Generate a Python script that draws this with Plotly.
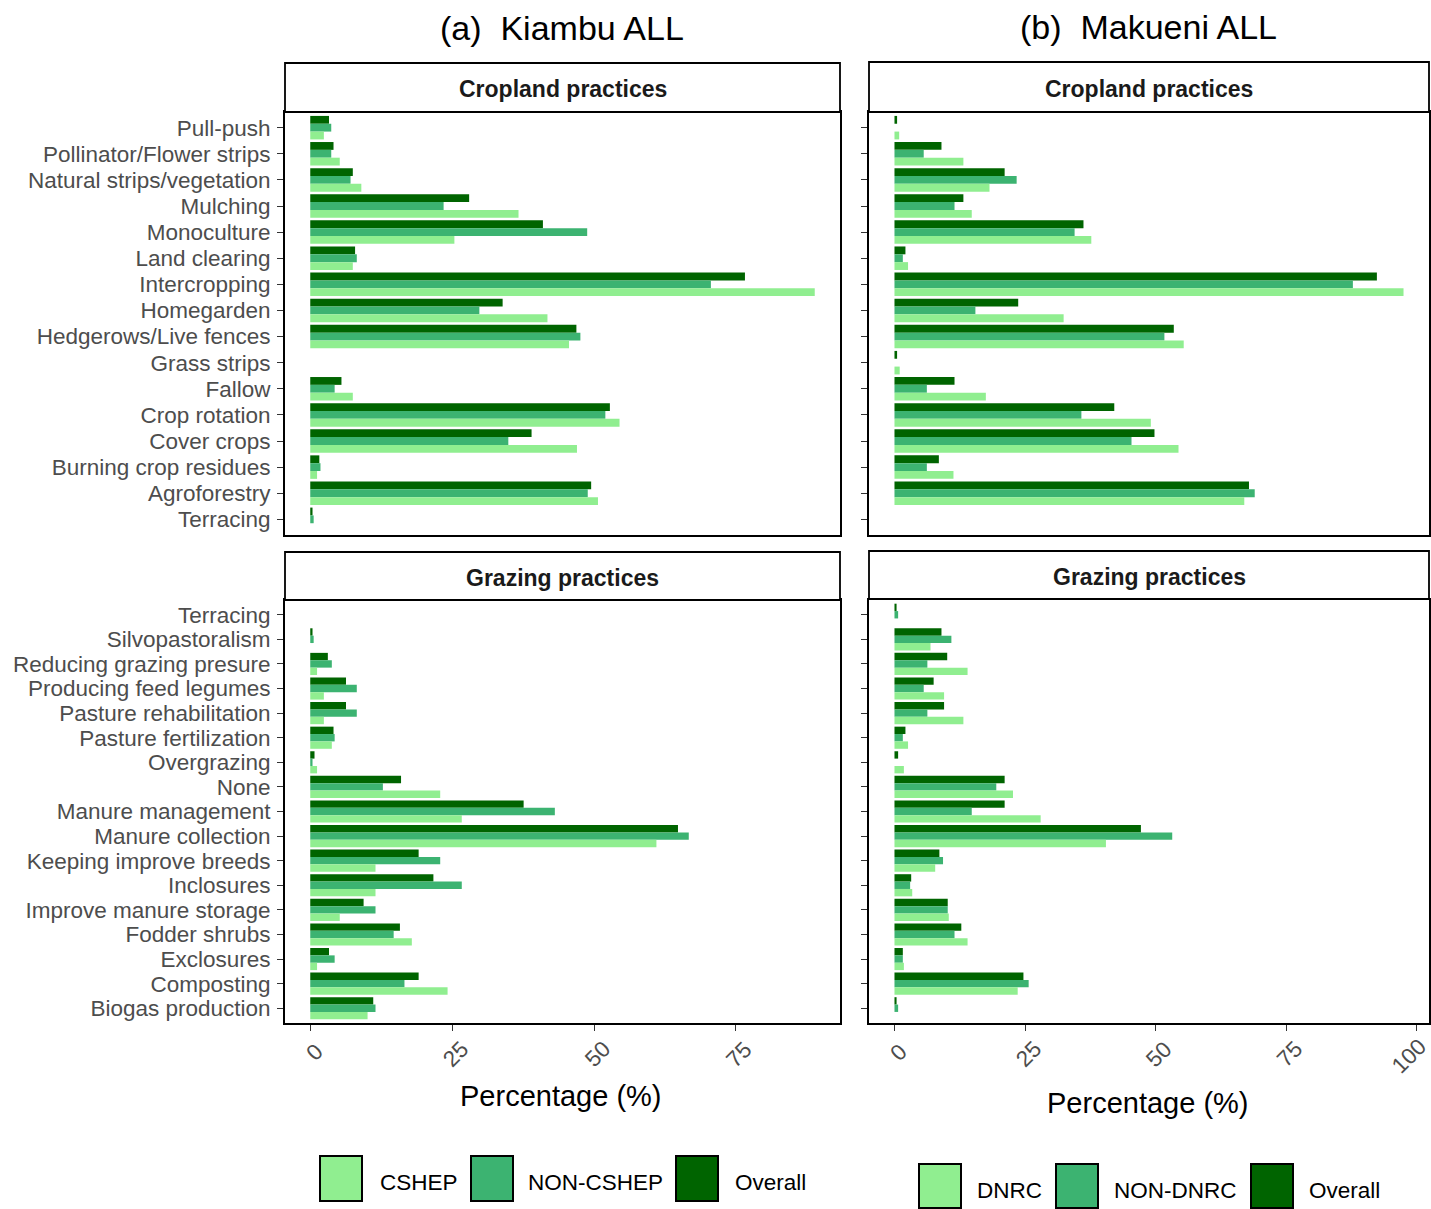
import plotly.graph_objects as go

# ---------------- data ----------------
crop_categories = [
    "Pull-push", "Pollinator/Flower strips", "Natural strips/vegetation", "Mulching",
    "Monoculture", "Land clearing", "Intercropping", "Homegarden",
    "Hedgerows/Live fences", "Grass strips", "Fallow", "Crop rotation",
    "Cover crops", "Burning crop residues", "Agroforestry", "Terracing",
]
graze_categories = [
    "Terracing", "Silvopastoralism", "Reducing grazing presure", "Producing feed legumes",
    "Pasture rehabilitation", "Pasture fertilization", "Overgrazing", "None",
    "Manure management", "Manure collection", "Keeping improve breeds", "Inclosures",
    "Improve manure storage", "Fodder shrubs", "Exclosures", "Composting",
    "Biogas production",
]

# Kiambu, cropland practices (%)
kiambu_crop_cshep = [2.4, 5.2, 9.0, 36.7, 25.4, 7.5, 88.9, 41.8, 45.6, 0, 7.5, 54.5, 47.0, 1.2, 50.7, 0]
kiambu_crop_non = [3.7, 3.7, 7.1, 23.5, 48.8, 8.2, 70.6, 29.8, 47.6, 0, 4.3, 52.0, 34.9, 1.8, 48.9, 0.6]
kiambu_crop_overall = [3.3, 4.1, 7.5, 28.0, 41.0, 7.9, 76.6, 33.9, 46.9, 0, 5.5, 52.8, 39.0, 1.6, 49.5, 0.4]

# Makueni, cropland practices (%)
makueni_crop_dnrc = [0.9, 13.2, 18.2, 14.8, 37.7, 2.6, 97.5, 32.4, 55.4, 1.0, 17.5, 49.1, 54.4, 11.3, 67.0, 0]
makueni_crop_non = [0, 5.6, 23.4, 11.5, 34.5, 1.6, 87.8, 15.5, 51.7, 0, 6.2, 35.8, 45.4, 6.2, 69.0, 0]
makueni_crop_overall = [0.5, 9.0, 21.1, 13.2, 36.2, 2.1, 92.4, 23.7, 53.5, 0.5, 11.5, 42.1, 49.8, 8.5, 67.9, 0]

# Kiambu, grazing practices (%)
kiambu_graze_cshep = [0, 0, 1.2, 2.4, 2.4, 3.8, 1.2, 22.9, 26.7, 61.0, 11.5, 11.5, 5.2, 17.9, 1.2, 24.2, 10.1]
kiambu_graze_non = [0, 0.6, 3.8, 8.2, 8.2, 4.3, 0.4, 12.8, 43.1, 66.7, 22.9, 26.7, 11.5, 14.7, 4.3, 16.6, 11.5]
kiambu_graze_overall = [0, 0.4, 3.1, 6.3, 6.3, 4.1, 0.75, 16.0, 37.6, 64.8, 19.1, 21.7, 9.4, 15.8, 3.3, 19.1, 11.1]

# Makueni, grazing practices (%)
makueni_graze_dnrc = [0, 6.9, 14.0, 9.5, 13.2, 2.6, 1.8, 22.7, 28.0, 40.5, 7.8, 3.4, 10.4, 14.0, 1.8, 23.6, 0]
makueni_graze_non = [0.7, 10.9, 6.3, 5.6, 6.3, 1.6, 0, 19.5, 14.8, 53.2, 9.3, 3.0, 10.2, 11.5, 1.6, 25.7, 0.7]
makueni_graze_overall = [0.4, 9.0, 10.1, 7.5, 9.5, 2.1, 0.7, 21.1, 21.1, 47.2, 8.6, 3.2, 10.2, 12.8, 1.6, 24.7, 0.4]

kiambu_groups = ["CSHEP", "NON-CSHEP", "Overall"]
makueni_groups = ["DNRC", "NON-DNRC", "Overall"]
group_colors = ["#90EE90", "#3CB371", "#006400"]

x_ticks_kiambu = [0, 25, 50, 75]
x_ticks_makueni = [0, 25, 50, 75, 100]

# ---------------- layout geometry ----------------
W, H = 1431, 1209


def px_x(v):
    return v / W


def px_y(v):
    return 1 - v / H


left_dom = [px_x(285), px_x(840)]
right_dom = [px_x(869), px_x(1429)]
crop_dom = [px_y(535), px_y(112)]
graze_dom = [px_y(1023), px_y(600)]

BASE_FONT = "Liberation Sans, Arial, sans-serif"
TICK_FONT = dict(family=BASE_FONT, size=22.5, color="#4d4d4d")

fig = go.Figure()

panels = [
    # (xaxis id, yaxis id, categories, series, group names)
    ("x", "y", crop_categories,
     [kiambu_crop_overall, kiambu_crop_non, kiambu_crop_cshep], kiambu_groups),
    ("x2", "y2", crop_categories,
     [makueni_crop_overall, makueni_crop_non, makueni_crop_dnrc], makueni_groups),
    ("x3", "y3", graze_categories,
     [kiambu_graze_overall, kiambu_graze_non, kiambu_graze_cshep], kiambu_groups),
    ("x4", "y4", graze_categories,
     [makueni_graze_overall, makueni_graze_non, makueni_graze_dnrc], makueni_groups),
]

# Overall drawn first so it sits on top of each group (reversed category axis)
for xa, ya, cats, series, names in panels:
    for vals, idx in zip(series, [2, 1, 0]):
        fig.add_trace(go.Bar(
            x=vals, y=cats, orientation="h",
            name=names[idx], marker=dict(color=group_colors[idx], line=dict(width=0)),
            xaxis=xa, yaxis=ya, showlegend=False,
            offsetgroup=str(idx),
        ))


def x_axis(domain, anchor, rng, ticks_vals, bottom):
    ax = dict(
        domain=domain, anchor=anchor, range=rng,
        showline=True, mirror=True, linecolor="black", linewidth=1.8,
        showgrid=False, zeroline=False, fixedrange=True,
        showticklabels=False,
    )
    if bottom:
        ax.update(
            tickmode="array", tickvals=ticks_vals,
            ticks="outside", ticklen=6, tickwidth=1.3, tickcolor="#333333",
        )
    else:
        ax.update(ticks="")
    return ax


def y_axis(domain, anchor, cats, labels):
    n = len(cats)
    return dict(
        domain=domain, anchor=anchor, type="category",
        categoryorder="array", categoryarray=cats,
        tickmode="array", tickvals=cats, ticktext=cats,
        range=[n - 1 + 0.6, -0.6],
        showline=True, mirror=True, linecolor="black", linewidth=1.8,
        showgrid=False, zeroline=False, fixedrange=True,
        ticks="outside", ticklen=6, tickwidth=1.3, tickcolor="#333333",
        showticklabels=labels, tickfont=TICK_FONT, ticklabelstandoff=2,
    )


kiambu_range = [-4.45, 93.35]
makueni_range = [-4.88, 102.38]

fig.update_layout(
    width=W, height=H,
    margin=dict(l=0, r=0, t=0, b=0),
    paper_bgcolor="white", plot_bgcolor="white",
    barmode="group", bargap=0.1, bargroupgap=0,
    showlegend=False,
    font=dict(family=BASE_FONT, color="black"),
    xaxis=x_axis(left_dom, "y", kiambu_range, x_ticks_kiambu, False),
    xaxis2=x_axis(right_dom, "y2", makueni_range, x_ticks_makueni, False),
    xaxis3=x_axis(left_dom, "y3", kiambu_range, x_ticks_kiambu, True),
    xaxis4=x_axis(right_dom, "y4", makueni_range, x_ticks_makueni, True),
    yaxis=y_axis(crop_dom, "x", crop_categories, True),
    yaxis2=y_axis(crop_dom, "x2", crop_categories, False),
    yaxis3=y_axis(graze_dom, "x3", graze_categories, True),
    yaxis4=y_axis(graze_dom, "x4", graze_categories, False),
)

shapes = []
annotations = []

# rotated x tick labels, centred just below each bottom-axis tick
label_xshift = {1: 4, 2: 3, 3: -8}
label_ycentre = {1: 1052, 2: 1054, 3: 1056}
for xref, ticks in [("x3", x_ticks_kiambu), ("x4", x_ticks_makueni)]:
    for t in ticks:
        s = str(t)
        annotations.append(dict(
            text=s, xref=xref, yref="paper", x=t, y=px_y(label_ycentre[len(s)]),
            xshift=label_xshift[len(s)], textangle=-45,
            showarrow=False, xanchor="center", yanchor="middle",
            font=TICK_FONT,
        ))

# facet strips
strips = [
    (285, 840, 63, 112, "Cropland practices"),
    (285, 840, 552, 600, "Grazing practices"),
    (869, 1429, 62, 112, "Cropland practices"),
    (869, 1429, 551, 599, "Grazing practices"),
]
for x0, x1, y0, y1, label in strips:
    shapes.append(dict(
        type="rect", xref="paper", yref="paper",
        x0=px_x(x0), x1=px_x(x1), y0=px_y(y1), y1=px_y(y0),
        fillcolor="white", line=dict(color="black", width=1.8), layer="above",
    ))
    annotations.append(dict(
        text=f"<b>{label}</b>", xref="paper", yref="paper",
        x=px_x((x0 + x1) / 2), y=px_y((y0 + y1) / 2 + 2),
        showarrow=False, xanchor="center", yanchor="middle",
        font=dict(family=BASE_FONT, size=23, color="#1a1a1a"),
    ))

# column titles
for cx, cy, label in [(562, 28, "(a)\u00a0 Kiambu ALL"), (1148, 27, "(b)\u00a0 Makueni ALL")]:
    annotations.append(dict(
        text=label, xref="paper", yref="paper", x=px_x(cx), y=px_y(cy),
        showarrow=False, xanchor="center", yanchor="middle",
        font=dict(family=BASE_FONT, size=34, color="black"),
    ))

# x axis titles
for cx, cy in [(561, 1096), (1148, 1103)]:
    annotations.append(dict(
        text="Percentage (%)", xref="paper", yref="paper", x=px_x(cx), y=px_y(cy),
        showarrow=False, xanchor="center", yanchor="middle",
        font=dict(family=BASE_FONT, size=29, color="black"),
    ))

# legends (one per column)
legend_specs = [
    (kiambu_groups, [320, 471, 676], [378, 526, 733], 1156, 1201, 1182),
    (makueni_groups, [919, 1056, 1251], [975, 1112, 1307], 1164, 1208, 1190),
]
for names, box_x, text_x, y0, y1, ty in legend_specs:
    for name, color, bx, tx in zip(names, group_colors, box_x, text_x):
        shapes.append(dict(
            type="rect", xref="paper", yref="paper",
            x0=px_x(bx), x1=px_x(bx + 42), y0=px_y(y1), y1=px_y(y0),
            fillcolor=color, line=dict(color="black", width=2),
        ))
        annotations.append(dict(
            text=name, xref="paper", yref="paper", x=px_x(tx), y=px_y(ty),
            showarrow=False, xanchor="left", yanchor="middle",
            font=dict(family=BASE_FONT, size=22.5, color="black"),
        ))

fig.update_layout(shapes=shapes, annotations=annotations)

fig.write_html("out.html")
